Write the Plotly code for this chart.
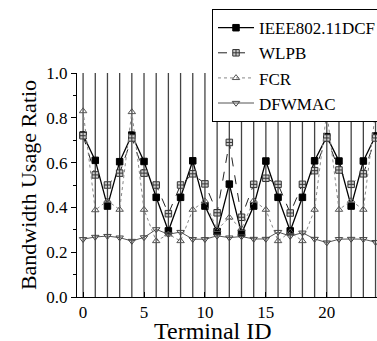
import plotly.graph_objects as go

terminals = list(range(25))
ieee = [0.723, 0.61, 0.406, 0.604, 0.723, 0.605, 0.445, 0.295, 0.445, 0.608, 0.406, 0.292, 0.504,
        0.284, 0.406, 0.607, 0.445, 0.295, 0.445, 0.608, 0.716, 0.607, 0.406, 0.607, 0.719]
wlpb = [0.72, 0.545, 0.50, 0.553, 0.71, 0.553, 0.50, 0.372, 0.50, 0.55, 0.505, 0.376, 0.69,
        0.356, 0.503, 0.53, 0.503, 0.375, 0.503, 0.564, 0.71, 0.567, 0.503, 0.55, 0.71]
fcr = [0.83, 0.388, 0.43, 0.39, 0.826, 0.39, 0.25, 0.28, 0.25, 0.39, 0.428, 0.30, 0.355,
       0.305, 0.43, 0.39, 0.25, 0.29, 0.25, 0.39, 0.827, 0.39, 0.43, 0.39, 0.827]
dfwmac = [0.258, 0.268, 0.272, 0.265, 0.25, 0.266, 0.302, 0.28, 0.29, 0.258, 0.258, 0.273, 0.265,
          0.27, 0.259, 0.259, 0.29, 0.272, 0.287, 0.259, 0.243, 0.258, 0.259, 0.258, 0.245]

series = [
    ("IEEE802.11DCF", ieee, dict(color="black", width=1.3, dash="solid"),
     dict(symbol="square", size=6.5, color="black", line=dict(color="black", width=1))),
    ("WLPB", wlpb, dict(color="#222", width=1, dash="dash"),
     dict(symbol="square-cross", size=6.5, color="#ccc", line=dict(color="#333", width=1))),
    ("FCR", fcr, dict(color="#888", width=1, dash="dot"),
     dict(symbol="triangle-up-open", size=6.5, color="#555", line=dict(color="#555", width=1))),
    ("DFWMAC", dfwmac, dict(color="#555", width=1, dash="solid"),
     dict(symbol="triangle-down-open", size=6.5, color="#444", line=dict(color="#444", width=1))),
]

fig = go.Figure()
for name, vals, ln, mk in series:
    fig.add_trace(go.Scatter(x=terminals, y=vals, name=name, mode="lines+markers",
                             line=ln, marker=mk))

serif = "Liberation Serif, serif"
fig.update_layout(
    width=377, height=341,
    margin=dict(l=77, r=0, t=73, b=44, autoexpand=False),
    paper_bgcolor="white", plot_bgcolor="white",
    font=dict(family=serif, color="black", size=16),
    showlegend=True,
    legend=dict(x=0.45, y=1.285, xanchor="left", yanchor="top",
                bgcolor="white", bordercolor="black", borderwidth=1,
                font=dict(family=serif, size=17, color="black"),
                itemwidth=36, tracegroupgap=0),
    xaxis=dict(range=[-0.5, 24.12], tickvals=[0, 5, 10, 15, 20],
               showgrid=False, zeroline=False,
               showline=True, linecolor="black", linewidth=1,
               ticks="inside", ticklen=5, tickcolor="black",
               tickfont=dict(family=serif, size=17)),
    yaxis=dict(range=[0, 1.0], dtick=0.2, tickformat=".1f",
               showgrid=False, zeroline=False,
               showline=True, linecolor="black", linewidth=1,
               ticks="outside", ticklen=5, tickcolor="black",
               minor=dict(dtick=0.1, ticks="outside", ticklen=3, tickcolor="black"),
               tickfont=dict(family=serif, size=17),
               title=dict(text="Bandwidth Usage Ratio", font=dict(family=serif, size=22), standoff=3)),
    annotations=[dict(text="Terminal ID", xref="paper", yref="paper", x=0.453, y=-0.152,
                      xanchor="center", yanchor="middle", showarrow=False,
                      font=dict(family=serif, size=24, color="black"))],
)

# vertical lines at each terminal, spanning the full y range
for t in terminals:
    fig.add_shape(type="line", xref="x", yref="y", x0=t, x1=t, y0=0, y1=1.0,
                  line=dict(color="#444", width=1.3), layer="below")

fig.write_html("out.html", config={"displayModeBar": False},
               post_script="document.body.style.margin='0';document.body.style.overflow='hidden';")
